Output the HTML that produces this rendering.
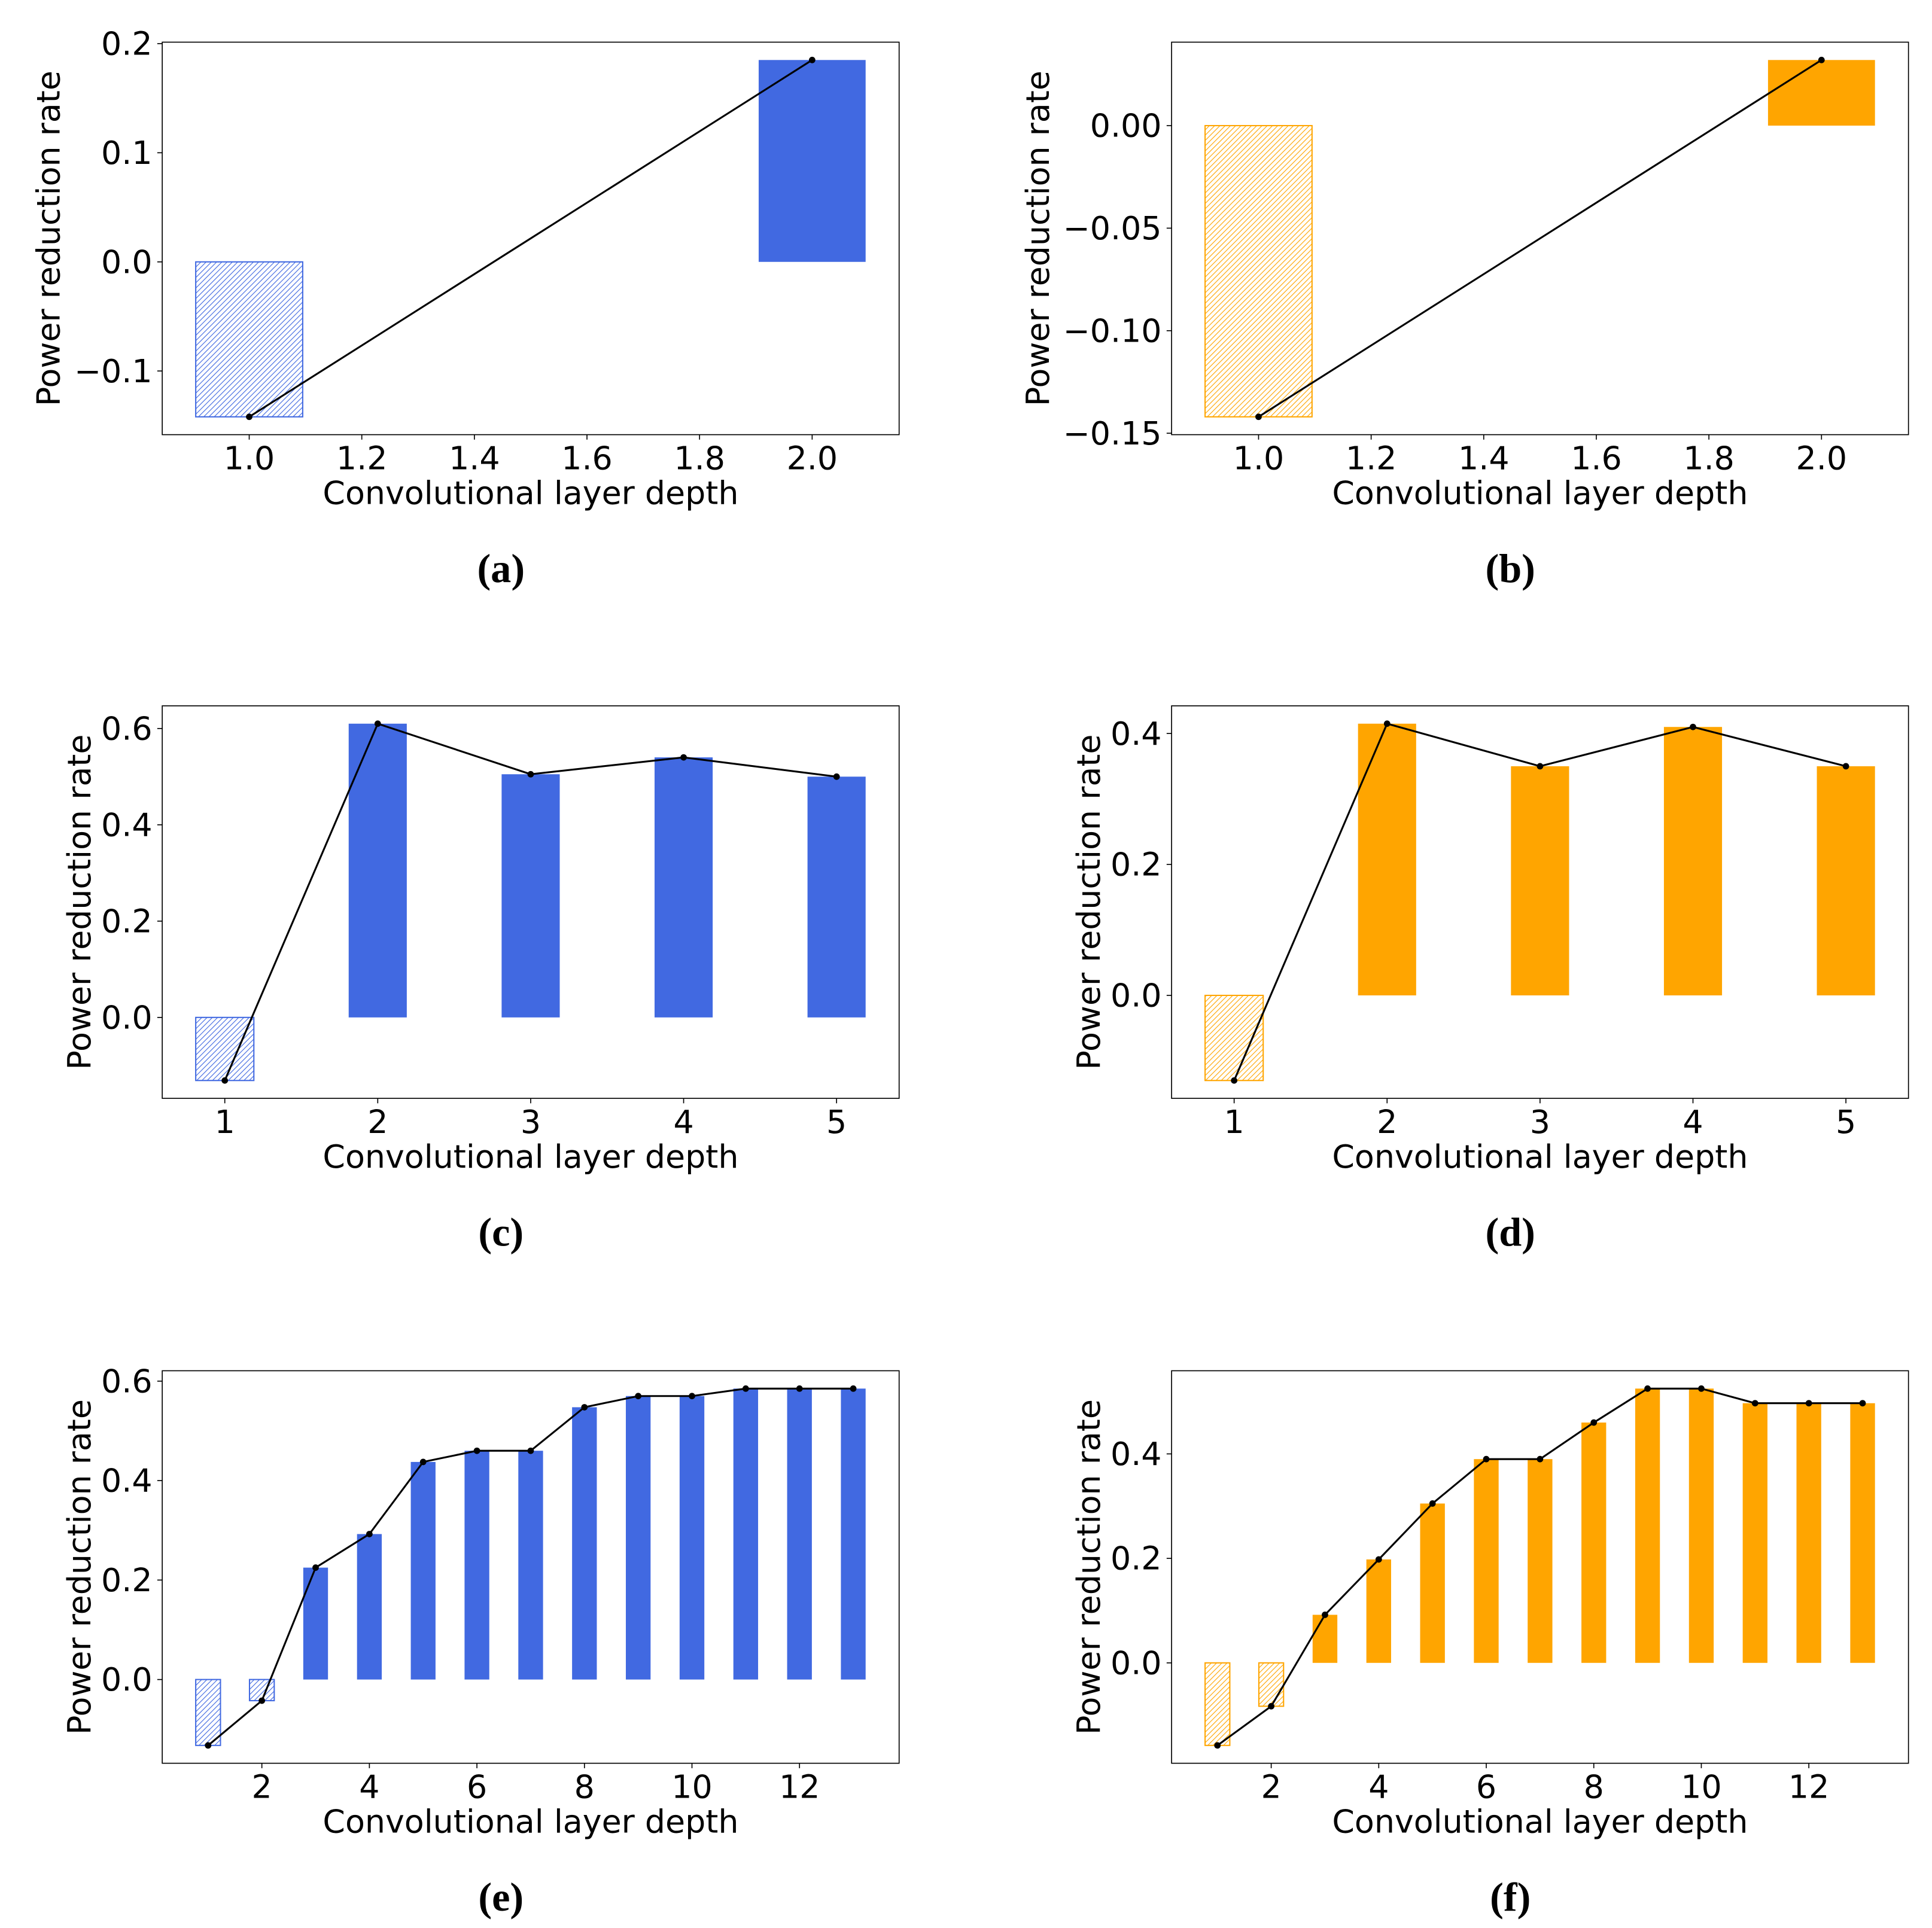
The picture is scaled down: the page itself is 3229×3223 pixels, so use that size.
<!DOCTYPE html>
<html><head><meta charset="utf-8"><style>
html,body{margin:0;padding:0;background:#fff;}
svg{display:block;}
text{font-family:"DejaVu Sans","Liberation Sans",sans-serif;}
.cap{font-family:"Liberation Serif",serif;}
</style></head><body>
<svg id="fig" xmlns="http://www.w3.org/2000/svg" width="3229" height="3223" viewBox="0 0 1560 1557">
<defs>
<pattern id="hatch-blue" patternUnits="userSpaceOnUse" width="3" height="3" patternTransform="rotate(45)"><rect width="3" height="3" fill="#fff"/><line x1="0" y1="0" x2="0" y2="3" stroke="#4169E1" stroke-width="1.1"/></pattern>
<pattern id="hatch-orange" patternUnits="userSpaceOnUse" width="3" height="3" patternTransform="rotate(45)"><rect width="3" height="3" fill="#fff"/><line x1="0" y1="0" x2="0" y2="3" stroke="#FFA500" stroke-width="1.1"/></pattern>
</defs>
</svg>
<script>
const valuesA = [-0.142, 0.185];
const valuesB = [-0.142, 0.032];
const valuesC = [-0.131, 0.61, 0.505, 0.54, 0.50];
const valuesD = [-0.130, 0.415, 0.35, 0.41, 0.35];
const valuesE = [-0.1325, -0.0425, 0.225, 0.2925, 0.4375, 0.46, 0.46, 0.5475, 0.57, 0.57, 0.585, 0.585, 0.585];
const valuesF = [-0.158, -0.083, 0.092, 0.198, 0.305, 0.39, 0.39, 0.46, 0.525, 0.525, 0.497, 0.497, 0.497];
const xticksA = [1.0, 1.2, 1.4, 1.6, 1.8, 2.0];
const xticksC = [1, 2, 3, 4, 5];
const xticksE = [2, 4, 6, 8, 10, 12];
const yticksA = [-0.1, 0.0, 0.1, 0.2];
const yticksB = [-0.15, -0.10, -0.05, 0.00];
const yticksC = [0.0, 0.2, 0.4, 0.6];
const yticksD = [0.0, 0.2, 0.4];
const yticksE = [0.0, 0.2, 0.4, 0.6];
const yticksF = [0.0, 0.2, 0.4];
const captions = ['(a)','(b)','(c)','(d)','(e)','(f)'];

const NS='http://www.w3.org/2000/svg';
const svg=document.getElementById('fig');
function mk(tag,attrs,parent){const e=document.createElementNS(NS,tag);for(const k in attrs)e.setAttribute(k,attrs[k]);(parent||svg).appendChild(e);return e;}
function fmt(v,dec){let s=Math.abs(v).toFixed(dec);return (v<-1e-9?'\u2212':'')+s;}

function panel(opt){
  const g=mk('g',{});
  
  
  const L=opt.x0,R=opt.x0+595,T=opt.y0,B=opt.y0+317;
  const vals=opt.values,n=vals.length;
  const bw=opt.bw;
  const dmin=Math.min(...vals,0),dmax=Math.max(...vals,0);
  const ymar=(dmax-dmin)*0.05;
  const ylo=dmin-ymar,yhi=dmax+ymar;
  const xlo0=1-bw/2,xhi0=n+bw/2,xm=(xhi0-xlo0)*0.05;
  const xlo=xlo0-xm,xhi=xhi0+xm;
  const sx=v=>L+(v-xlo)/(xhi-xlo)*(R-L);
  const sy=v=>B-(v-ylo)/(yhi-ylo)*(B-T);
  vals.forEach((v,i)=>{
    const x=i+1;
    const neg=v<0;
    const r=mk('rect',{x:sx(x-bw/2),y:Math.min(sy(v),sy(0)),width:sx(x+bw/2)-sx(x-bw/2),height:Math.abs(sy(v)-sy(0)),
      fill:neg?'url(#hatch-'+(opt.color==='#4169E1'?'blue':'orange')+')':opt.color,
      stroke:neg?opt.color:'none','stroke-width':neg?1:0},g);
    
    
  });
  const pts=vals.map((v,i)=>sx(i+1)+','+sy(v)).join(' ');
  const pl=mk('polyline',{points:pts,fill:'none',stroke:'#000','stroke-width':1.5},g);
  
  
  vals.forEach((v,i)=>{
    const c=mk('circle',{cx:sx(i+1),cy:sy(v),r:2.6,fill:'#000'},g);
    
    
  });
  const fr=mk('rect',{x:L,y:T,width:R-L,height:B-T,fill:'none',stroke:'#000','stroke-width':0.8},g);
  
  
  opt.xticks.forEach(t=>{
    const x=sx(t);
    mk('line',{x1:x,y1:B,x2:x,y2:B+4,stroke:'#000','stroke-width':0.8},g);
    const tx=mk('text',{x:x,y:B+28,'font-size':26,'text-anchor':'middle'},g);
    tx.textContent=opt.xdec?t.toFixed(opt.xdec):String(t);
    
    
  });
  opt.yticks.forEach(t=>{
    const y=sy(t);
    mk('line',{x1:L-4,y1:y,x2:L,y2:y,stroke:'#000','stroke-width':0.8},g);
    const tx=mk('text',{x:L-8,y:y+9,'font-size':26,'text-anchor':'end'},g);
    tx.textContent=fmt(t,opt.ydec);
    
    
  });
  const xl=mk('text',{x:(L+R)/2,y:B+56,'font-size':26,'text-anchor':'middle'},g);
  xl.textContent='Convolutional layer depth';
  
  
  const yl=mk('text',{x:0,y:0,'font-size':26,'text-anchor':'middle',transform:'translate('+(opt.ylx)+','+((T+B)/2)+') rotate(-90)'},g);
  yl.textContent='Power reduction rate';
  
  
  const cp=mk('text',{x:(L+R)/2-24,y:B+119,'font-size':33,'font-weight':'bold','text-anchor':'middle',class:'cap'},g);
  cp.textContent=opt.cap;
  
  
}
const BLUE='#4169E1',ORANGE='#FFA500';
panel({id:'a',x0:131,y0:34,values:valuesA,bw:0.19,color:BLUE,xticks:xticksA,xdec:1,yticks:yticksA,ydec:1,ylx:48,cap:captions[0]});
panel({id:'b',x0:946,y0:34,values:valuesB,bw:0.19,color:ORANGE,xticks:xticksA,xdec:1,yticks:yticksB,ydec:2,ylx:847,cap:captions[1]});
panel({id:'c',x0:131,y0:570,values:valuesC,bw:0.38,color:BLUE,xticks:xticksC,xdec:0,yticks:yticksC,ydec:1,ylx:73,cap:captions[2]});
panel({id:'d',x0:946,y0:570,values:valuesD,bw:0.38,color:ORANGE,xticks:xticksC,xdec:0,yticks:yticksD,ydec:1,ylx:888,cap:captions[3]});
panel({id:'e',x0:131,y0:1107,values:valuesE,bw:0.46,color:BLUE,xticks:xticksE,xdec:0,yticks:yticksE,ydec:1,ylx:73,cap:captions[4]});
panel({id:'f',x0:946,y0:1107,values:valuesF,bw:0.46,color:ORANGE,xticks:xticksE,xdec:0,yticks:yticksF,ydec:1,ylx:888,cap:captions[5]});
</script>
</body></html>
